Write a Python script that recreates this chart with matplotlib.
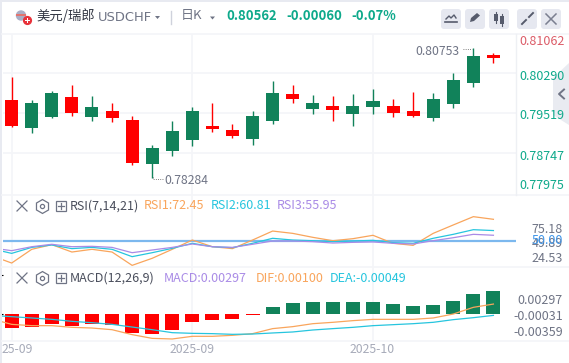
import matplotlib
matplotlib.use("Agg")
import matplotlib.pyplot as plt
from matplotlib.patches import FancyBboxPatch, Circle, Polygon, Rectangle

plt.rcParams['font.family'] = ['Noto Sans CJK SC', 'DejaVu Sans']

opens  = [.79773,.79239,.79449,.79830,.79449,.79563,.79392,.78553,.78801,.79011,.79278,.79201,.79030,.79373,.79888,.79602,.79659,.79506,.79640,.79659,.79563,.79430,.79697,.80097,.80622]
highs  = [.80212,.79773,.79945,.80059,.79849,.79716,.79468,.78915,.79373,.79640,.79716,.79316,.79563,.80135,.80059,.79868,.79849,.79888,.79983,.79792,.79926,.79907,.80288,.80753,.80669]
lows   = [.79258,.79144,.79430,.79468,.79373,.79354,.78534,.78284,.78706,.78896,.79163,.79049,.78915,.79316,.79716,.79506,.79373,.79278,.79506,.79449,.79449,.79373,.79621,.80021,.80478]
closes = [.79278,.79716,.79907,.79525,.79640,.79430,.78572,.78858,.79182,.79563,.79220,.79087,.79468,.79907,.79792,.79716,.79583,.79659,.79754,.79525,.79468,.79792,.80154,.80612,.80562]
bars = list(range(25))
line_x = list(range(-1, 25))
rsi1 = [34.8,27.2,41.4,46.2,38.6,41.4,38.6,24.8,32.1,41.4,51.0,44.1,42.1,51.0,60.3,57.9,53.8,50.3,52.4,55.9,47.6,45.5,57.9,66.6,75.18,72.45]
rsi2 = [42.0,37.2,43.4,45.9,42.1,43.4,41.4,33.8,37.9,42.4,47.6,44.1,43.1,47.6,52.8,51.0,50.3,49.3,50.0,50.7,48.3,47.6,52.8,56.9,61.7,60.81]
rsi3 = [42.8,40.0,44.1,46.6,44.1,44.5,43.4,37.9,40.7,43.4,46.9,44.1,43.4,46.6,50.0,50.0,49.3,47.9,48.6,49.0,47.6,46.9,50.3,53.4,56.9,55.95]
macd = [-.00181,-.00168,-.00129,-.00155,-.00129,-.00142,-.00245,-.00258,-.00207,-.00103,-.00077,-.00065,-.00013,.00090,.00142,.00155,.00155,.00155,.00155,.00129,.00103,.00116,.00168,.00258,.00297]
dif = [-.00096,-.00167,-.00184,-.00184,-.00206,-.00215,-.00237,-.00302,-.00351,-.00359,-.00324,-.00324,-.00311,-.00289,-.00223,-.00197,-.00158,-.00140,-.00118,-.00101,-.00101,-.00101,-.00083,-.00031,.00057,.00100]
dea = [-.00048,-.00066,-.00083,-.00101,-.00127,-.00145,-.00167,-.00202,-.00237,-.00276,-.00285,-.00289,-.00298,-.00294,-.00280,-.00267,-.00241,-.00223,-.00206,-.00184,-.00171,-.00158,-.00140,-.00105,-.00079,-.00049]
price_ticks = [.80290,.79519,.78747]
date_ticks = [0, 9, 18]

W, H = 569, 363
RED, GREEN, TEAL = '#ff0000', '#11825a', '#0ea98b'
ORANGE, CYAN, PURPLE = '#f9a55c', '#26c5de', '#a98be6'
GRAY, GRID = '#6f7485', '#f4f5f8'
L, R = 2.5, 515.5

fig = plt.figure(figsize=(W/100, H/100), dpi=100, facecolor='white')

def panel(top, bottom):
    ax = fig.add_axes([L/W, 1-bottom/H, (R-L)/W, (bottom-top)/H])
    ax.set_xlim(-0.457, 25.1)
    for s in ax.spines.values():
        s.set_visible(False)
    ax.tick_params(left=False, bottom=False, labelleft=False, labelbottom=False)
    ax.set_xticks(date_ticks)
    ax.grid(axis='x', color=GRID, lw=1.2)
    ax.set_axisbelow(True)
    ax.patch.set_alpha(0)
    return ax

def yval(ax, top, bottom, y0, v0, scale):
    ax.set_ylim(v0-(bottom-y0)/scale, v0+(y0-top)/scale)

def T(x, y, s, color=GRAY, size=9, ha='left', **kw):
    return fig.text(x/W, 1-y/H, s, color=color, fontsize=size, ha=ha, va='center', zorder=10, **kw)

# price panel
a1 = panel(34, 195)
yval(a1, 34, 195, 113, .79519, 40.5/.00772)
a1.set_yticks(price_ticks)
a1.grid(axis='y', color=GRID, lw=1.2)
for i in bars:
    c = RED if closes[i] < opens[i] else GREEN
    a1.vlines(i, lows[i], highs[i], color=c, lw=1, zorder=2)
    a1.bar(i, abs(opens[i]-closes[i]), bottom=min(opens[i], closes[i]), width=0.65, color=c, zorder=3)

# RSI panel
a2 = panel(195.3, 267.3)
yval(a2, 195.3, 267.3, 241, 50, 2.9/3)
a2.axhline(50, color='#7cb8ee', lw=1.6, zorder=2)
a2.plot(line_x, rsi1, color=ORANGE, lw=0.9, zorder=3)
a2.plot(line_x, rsi2, color=CYAN, lw=0.9, zorder=3)
a2.plot(line_x, rsi3, color=PURPLE, lw=0.9, zorder=3)

# MACD panel
a3 = panel(267.3, 341.3)
yval(a3, 267.3, 341.3, 190+372/3, 0, 23232/3)
a3.bar(bars, macd, width=0.7, color=[GREEN if v >= 0 else RED for v in macd], zorder=2)
a3b = a3.twinx()
a3b.set_xlim(a3.get_xlim())
for s in a3b.spines.values():
    s.set_visible(False)
a3b.tick_params(right=False, labelright=False)
yval(a3b, 267.3, 341.3, 190+365/3, 0, 22819/3)
a3b.plot(line_x, dif, color=ORANGE, lw=0.9)
a3b.plot(line_x, dea, color=CYAN, lw=0.9)

# full-figure overlay for frame, header, icons
ov = fig.add_axes([0, 0, 1, 1], zorder=5)
ov.set_xlim(0, W); ov.set_ylim(H, 0); ov.axis('off'); ov.patch.set_alpha(0)
ov.add_patch(Rectangle((0, 0), W, 2, color='#e8eaf1', lw=0))
ov.add_patch(Rectangle((0, 0), 2, H, color='#e8eaf1', lw=0))
for y in (33.5, 195.3, 267.3, 341.3):
    ov.plot([2, W], [y, y], color=GRID, lw=1.2)
ov.plot([515.7, 515.7], [34, 195], color='#eef0f4', lw=1)

# flag
ov.add_patch(Circle((21, 15.5), 5.2, color='#a9aec6', lw=0))
ov.add_patch(Rectangle((16.2, 14), 9.6, 1.6, color='#e2746f', lw=0))
ov.add_patch(Circle((27.5, 20.5), 4.6, color='#e8323a', lw=0))
ov.add_patch(Rectangle((25, 19.8), 5, 1.4, color='white', lw=0))
ov.add_patch(Rectangle((26.8, 18), 1.4, 5, color='white', lw=0))

T(36, 16, '美元/瑞郎', color='#333744', size=9.6)
T(98, 17.5, 'USDCHF', color=GRAY, size=9.4, family=['DejaVu Sans'])
ov.add_patch(Polygon([[155, 16], [160, 16], [157.5, 19]], color=GRAY, lw=0))
ov.plot([171.5, 171.5], [11, 24], color='#cfd2dc', lw=1)
T(181, 15.5, '日K', color=GRAY, size=9.4)
ov.add_patch(Polygon([[210, 16.5], [215, 16.5], [212.5, 19.5]], color=GRAY, lw=0))
T(226, 16, '0.80562', color=TEAL, size=9.4, fontweight='bold')
T(286, 16, '-0.00060', color=TEAL, size=9.4, fontweight='bold')
T(351, 16, '-0.07%', color=TEAL, size=9.4, fontweight='bold')

# toolbar buttons
for x in (441, 465, 489, 517, 541):
    ov.add_patch(FancyBboxPatch((x+2, 11), 16, 16, boxstyle='round,pad=2,rounding_size=3', fc='#e6e8f0', ec='none'))
ov.plot([446, 449, 451, 454, 456], [19, 16, 18, 15, 18], color='#565b6c', lw=1)
ov.plot([445, 457], [22, 22], color='#565b6c', lw=1.2)
ov.add_patch(Polygon([[470, 22], [471, 18], [477, 13], [480, 15.5], [474, 21]], color='#565b6c', lw=0))
ov.add_patch(Rectangle((494, 14), 4, 7, color='#565b6c', lw=0))
ov.add_patch(Rectangle((500, 16), 4, 8, color='#565b6c', lw=0))
ov.plot([496, 496], [12, 23], color='#565b6c', lw=0.8)
ov.plot([502, 502], [14, 26], color='#565b6c', lw=0.8)
ov.plot([522, 526], [24, 20], color='#565b6c', lw=1.4)
ov.plot([529, 533], [17, 13], color='#565b6c', lw=1.4)
ov.plot([546, 556], [14, 24], color='#7a7f90', lw=1.1)
ov.plot([546, 556], [24, 14], color='#7a7f90', lw=1.1)

# side tab
ov.add_patch(Polygon([[569, 63], [553, 78], [553, 115], [569, 125]], color='#e9ebf1', lw=0))
ov.plot([564, 559, 564], [89.5, 94, 98.5], color='#6f7485', lw=1.4)

# annotations
T(164, 180.5, '0.78284', size=8.8)
ov.plot([153, 153, 163], [177, 178.5, 178.5], color='#555', lw=0.6, ls=':')
T(415, 51.5, '0.80753', size=8.8)
ov.plot([463, 472], [48.5, 48.5], color='#555', lw=0.6, ls=':')

# price labels
for y, s, c in [(41.5, '0.81062', '#dc5c68'), (76, '0.80290', TEAL), (115.5, '0.79519', TEAL),
                (156.5, '0.78747', TEAL), (185, '0.77975', TEAL)]:
    T(519, y, s, color=c, size=9)

# panel header icons
for y in (206, 278):
    ov.add_patch(Rectangle((56.5, y-5), 10, 10, fc='none', ec=GRAY, lw=0.9))
    ov.plot([58.5, 64.5], [y, y], color=GRAY, lw=0.9)
    ov.plot([61.5, 61.5], [y-3, y+3], color=GRAY, lw=0.9)
    ov.plot([17, 27], [y-5, y+5], color=GRAY, lw=0.9)
    ov.plot([17, 27], [y+5, y-5], color=GRAY, lw=0.9)
    ov.plot([42], [y], marker='h', ms=10, mfc='none', mec=GRAY, mew=0.9)
    ov.plot([42], [y], marker='o', ms=3, mfc='none', mec=GRAY, mew=0.9)

# RSI
T(70, 206, 'RSI(7,14,21)', color='#4a4e5c')
T(144, 206, 'RSI1:72.45', color=ORANGE)
T(211, 206, 'RSI2:60.81', color=CYAN)
T(277, 206, 'RSI3:55.95', color=PURPLE)
for y, s in [(229, '75.18'), (243.5, '49.89'), (259, '24.53')]:
    T(563, y, s, ha='right')
T(563, 241, '50.00', color='#3f96ea', ha='right')

# MACD
T(70, 278, 'MACD(12,26,9)', color='#4a4e5c')
T(163.5, 278, 'MACD:0.00297', color=PURPLE)
T(255.5, 278, 'DIF:0.00100', color=ORANGE)
T(330, 278, 'DEA:-0.00049', color=CYAN)
for y, s in [(300.5, '0.00297'), (316.5, '-0.00031'), (332.5, '-0.00359')]:
    T(563, y, s, ha='right')

# dates
T(2, 349.5, '25-09', color='#a7abb9', size=8.8)
T(192, 349.5, '2025-09', color='#a7abb9', size=8.8, ha='center')
T(372, 349.5, '2025-10', color='#a7abb9', size=8.8, ha='center')

fig.savefig('out.png', dpi=100, facecolor='white')
